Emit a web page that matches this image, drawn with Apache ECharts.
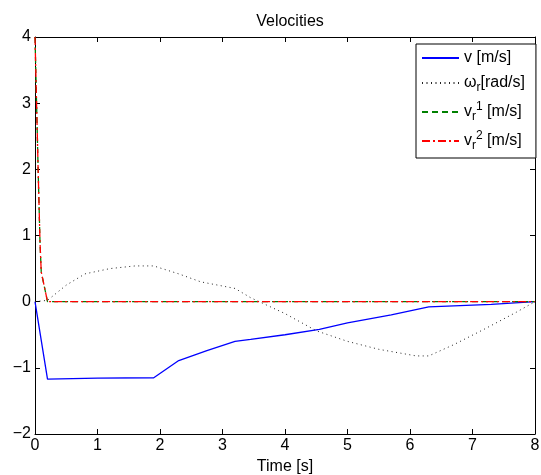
<!DOCTYPE html>
<html>
<head>
<meta charset="utf-8">
<script src="https://cdn.jsdelivr.net/npm/echarts@6/dist/echarts.min.js"></script>
<style>
  html, body { margin: 0; padding: 0; background: #fff; }
  #chart { width: 541px; height: 475px; }
</style>
</head>
<body>
<div id="chart"></div>
<script>
// 데이터
const vTime   = [0, 0.2, 1.0, 1.9, 2.3, 2.75, 3.2, 3.45, 4.0, 4.55, 5.0, 5.7, 6.3, 7.3, 8.0];
const vValues = [0, -1.17, -1.155, -1.15, -0.89, -0.74, -0.6, -0.57, -0.5, -0.42, -0.32, -0.2, -0.08, -0.04, 0];

const wTime   = [0, 0.2, 0.5, 0.8, 1.2, 1.6, 1.9, 2.3, 2.65, 3.2, 3.45, 4.0, 4.5, 5.0, 5.5, 6.1, 6.3, 6.7, 7.2, 7.7, 8.0];
const wValues = [0, 0.02, 0.25, 0.42, 0.5, 0.54, 0.54, 0.42, 0.3, 0.2, 0.06, -0.18, -0.44, -0.6, -0.72, -0.82, -0.82, -0.65, -0.41, -0.16, 0];

const r1Time   = [0, 0.02, 0.05, 0.08, 0.1, 0.2, 8.0];
const r1Values = [4, 3.2, 2.0, 0.9, 0.45, 0, 0];
const r2Time   = [0, 0.02, 0.05, 0.08, 0.1, 0.2, 8.0];
const r2Values = [4, 3.2, 2.0, 0.9, 0.45, 0, 0];

const xTicks = [0, 1, 2, 3, 4, 5, 6, 7, 8];
const yTicks = [-2, -1, 0, 1, 2, 3, 4];

function pairs(xs, ys) {
    return xs.map((x, i) => [x, ys[i]]);
}

const font = 'Liberation Sans, Arial, sans-serif';
const minus = (v) => String(v).replace('-', '\u2212');

function axisBase(show) {
    return {
        type: 'value',
        axisLine: { show: true, onZero: false, lineStyle: { color: '#000', width: 1 } },
        axisTick: { show: true, inside: true, length: 5, lineStyle: { color: '#000' } },
        splitLine: { show: false },
        axisLabel: { show: show, color: '#000', fontSize: 16, fontFamily: font, formatter: minus, margin: 4 }
    };
}

let chart = echarts.init(document.getElementById('chart'));

let option = {
    animation: false,
    backgroundColor: '#fff',
    title: {
        text: 'Velocities',
        left: 285, top: 9, textAlign: 'center',
        textStyle: { fontSize: 16, fontWeight: 'normal', color: '#000', fontFamily: font }
    },
    grid: { left: 35, right: 6, top: 37, bottom: 41, containLabel: false, outerBoundsMode: 'none' },
    xAxis: [
        Object.assign(axisBase(true), {
            position: 'bottom', min: xTicks[0], max: xTicks[xTicks.length - 1], interval: 1,
            name: 'Time [s]', nameLocation: 'middle', nameGap: 19,
            nameTextStyle: { fontSize: 16, color: '#000', fontFamily: font }
        }),
        Object.assign(axisBase(false), {
            position: 'top', min: xTicks[0], max: xTicks[xTicks.length - 1], interval: 1
        })
    ],
    yAxis: [
        Object.assign(axisBase(true), {
            position: 'left', min: yTicks[0], max: yTicks[yTicks.length - 1], interval: 1
        }),
        Object.assign(axisBase(false), {
            position: 'right', min: yTicks[0], max: yTicks[yTicks.length - 1], interval: 1
        })
    ],
    legend: {
        orient: 'vertical',
        left: 416, top: 44,
        backgroundColor: '#fff',
        borderColor: '#000', borderWidth: 1, borderRadius: 0,
        padding: [6, 11, 6, 5],
        itemWidth: 37, itemHeight: 10, itemGap: 7,
        itemStyle: { opacity: 0 },
        textStyle: {
            color: '#000', fontSize: 16, fontFamily: font,
            rich: {
                n:   { fontSize: 16, fontFamily: font, color: '#000', lineHeight: 22 },
                sup: { fontSize: 12, fontFamily: font, color: '#000', verticalAlign: 'top', lineHeight: 22, padding: [0, 0, 9, 0] },
                sub: { fontSize: 12, fontFamily: font, color: '#000', verticalAlign: 'bottom', lineHeight: 22, padding: [9, 0, 0, 0] }
            }
        },
        formatter: function (name) {
            if (name === 'v') return '{n|v [m/s]}';
            if (name === 'w') return '{n|\u03c9}{sub|r}{n|[rad/s]}';
            if (name === 'r1') return '{n|v}{sub|r}{sup|1}{n| [m/s]}';
            return '{n|v}{sub|r}{sup|2}{n| [m/s]}';
        },
        data: ['v', 'w', 'r1', 'r2']
    },
    series: [
        {
            name: 'v', type: 'line', symbol: 'none',
            data: pairs(vTime, vValues),
            lineStyle: { color: '#0000ff', width: 1.3 },
            itemStyle: { color: '#0000ff' }
        },
        {
            name: 'w', type: 'line', symbol: 'none',
            data: pairs(wTime, wValues),
            lineStyle: { color: '#222', width: 1, type: [1, 3.5] },
            itemStyle: { color: '#222' }
        },
        {
            name: 'r1', type: 'line', symbol: 'none',
            data: pairs(r1Time, r1Values),
            lineStyle: { color: '#008000', width: 1.3, type: [6, 4] },
            itemStyle: { color: '#008000' }
        },
        {
            name: 'r2', type: 'line', symbol: 'none',
            data: pairs(r2Time, r2Values),
            lineStyle: { color: '#ff0000', width: 1.3, type: [8, 3, 2, 3] },
            itemStyle: { color: '#ff0000' }
        }
    ]
};

option && chart.setOption(option);
</script>
</body>
</html>
